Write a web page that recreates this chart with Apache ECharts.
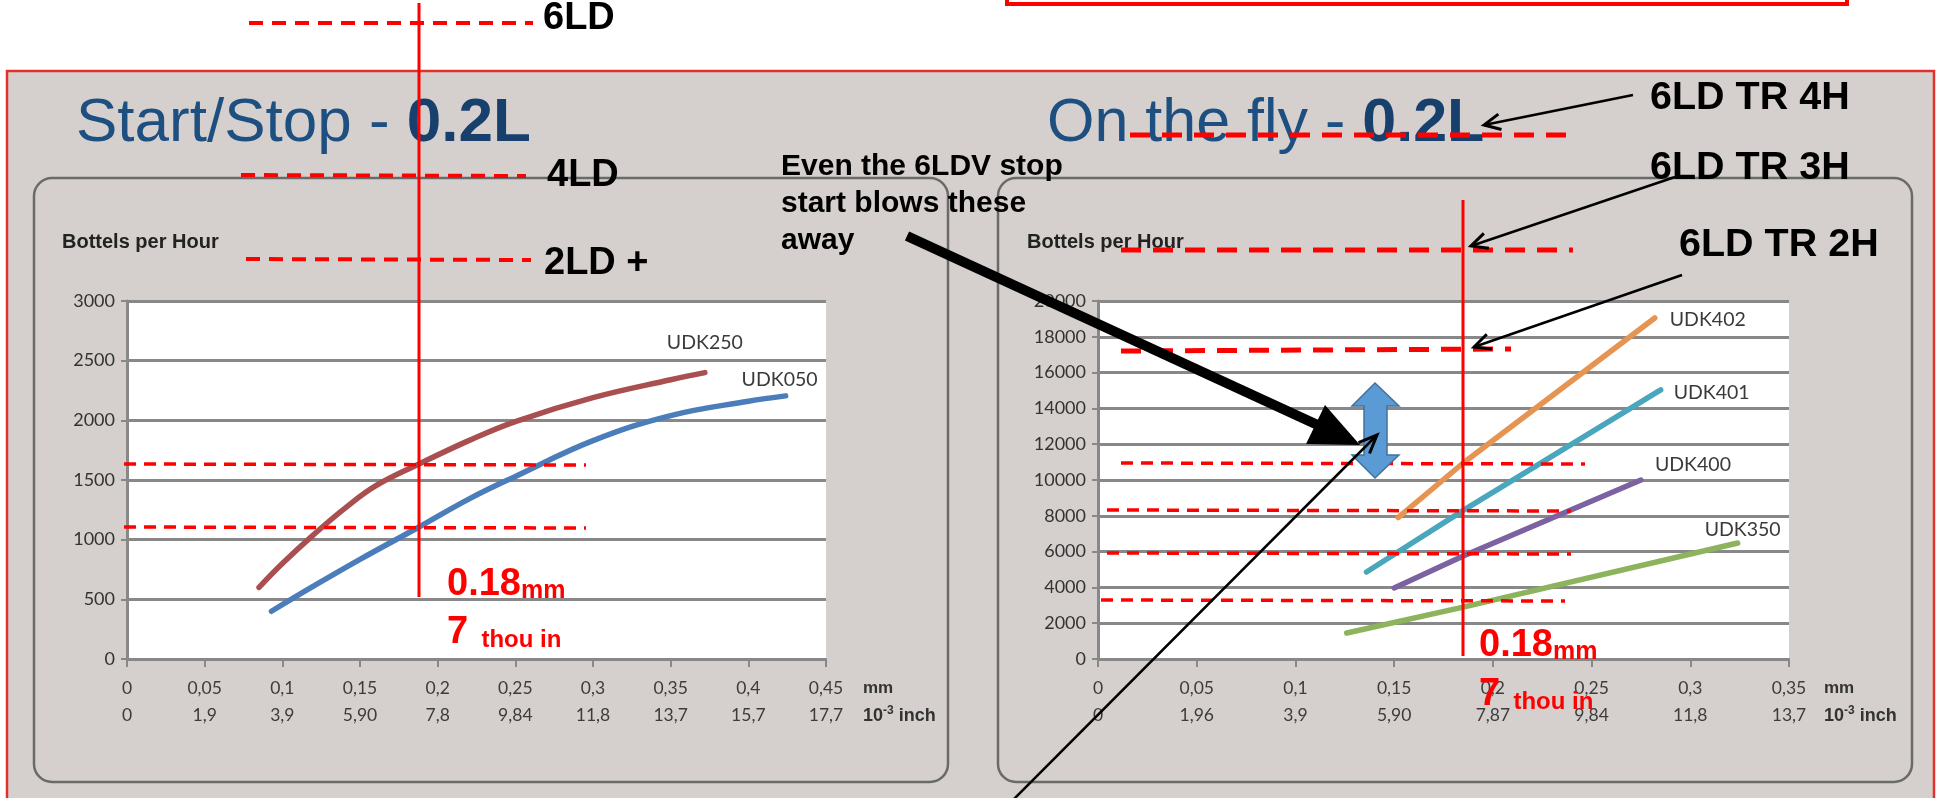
<!DOCTYPE html>
<html><head><meta charset="utf-8">
<script src="https://cdn.jsdelivr.net/npm/echarts/dist/echarts.min.js"></script>
<style>html,body{margin:0;padding:0;background:#fff;overflow:hidden}#c{width:1940px;height:798px}</style>
</head><body><div id="c"></div>
<script>
// ---- data ----
const mmTicksLeft = ['0','0,05','0,1','0,15','0,2','0,25','0,3','0,35','0,4','0,45'];
const inchTicksLeft = ['0','1,9','3,9','5,90','7,8','9,84','11,8','13,7','15,7','17,7'];
const mmTicksRight = ['0','0,05','0,1','0,15','0,2','0,25','0,3','0,35'];
const inchTicksRight = ['0','1,96','3,9','5,90','7,87','9,84','11,8','13,7'];

const udk250 = [[0.085,600],[0.1,800],[0.12,1040],[0.14,1260],[0.16,1450],[0.188,1634],[0.22,1830],[0.25,1990],[0.3,2190],[0.35,2340],[0.372,2400]];
const udk050 = [[0.093,400],[0.12,610],[0.15,835],[0.188,1106],[0.22,1340],[0.25,1530],[0.3,1830],[0.35,2040],[0.4,2160],[0.424,2205]];
const udk402 = [[0.152,7900],[0.185,10950],[0.282,19050]];
const udk401 = [[0.136,4860],[0.185,8300],[0.285,15030]];
const udk400 = [[0.150,3970],[0.185,5750],[0.275,10000]];
const udk350 = [[0.126,1450],[0.185,2900],[0.324,6480]];

// ---- styles ----
const SANS = 'Liberation Sans, Arial, sans-serif';
const TICKF = 'Lato, Liberation Sans, sans-serif';
const GRID_GRAY = '#888888';

function xLabelFmt(mm, inch) {
  return function (v) {
    const i = Math.round(v / 0.05);
    return '{a|' + (mm[i] || '') + '}\n{a|' + (inch[i] || '') + '}';
  };
}
function xAxisCfg(gi, max, mm, inch) {
  return {
    gridIndex: gi, type: 'value', min: 0, max: max, interval: 0.05,
    axisLine: { show: true, lineStyle: { color: GRID_GRAY, width: 2 } },
    axisTick: { show: true, length: 8, lineStyle: { color: GRID_GRAY, width: 2 } },
    splitLine: { show: false },
    axisLabel: { margin: 16, formatter: xLabelFmt(mm, inch),
      rich: { a: { fontSize: 17.5, lineHeight: 27, color: '#3c3c3c', fontFamily: TICKF } } }
  };
}
function yAxisCfg(gi, max, interval) {
  return {
    gridIndex: gi, type: 'value', min: 0, max: max, interval: interval,
    axisLine: { show: true, lineStyle: { color: GRID_GRAY, width: 3 } },
    axisTick: { show: true, length: 6, lineStyle: { color: GRID_GRAY, width: 2 } },
    splitLine: { show: true, lineStyle: { color: GRID_GRAY, width: 3 } },
    axisLabel: { margin: 12, fontSize: 18, color: '#333', fontFamily: TICKF,
      formatter: function (v) { return String(v); } }
  };
}
function lineSeries(name, data, color, gi, smooth, off) {
  return {
    name: name, type: 'line', xAxisIndex: gi, yAxisIndex: gi, data: data,
    smooth: smooth, showSymbol: false, symbol: 'none',
    lineStyle: { color: color, width: 5.5, cap: 'round' }, itemStyle: { color: color },
    endLabel: { show: true, formatter: name, color: '#3a3a3a', fontSize: 19.5, fontFamily: TICKF,
      align: 'center', verticalAlign: 'middle', distance: 0, offset: off },
    emphasis: { disabled: true }, z: 3
  };
}

// ---- graphic helpers ----
function dashed(x1, y1, x2, y2, lw, dash) {
  return { type: 'line', z: 100, shape: { x1, y1, x2, y2 },
    style: { stroke: '#ff0000', lineWidth: lw, lineDash: dash } };
}
function solidLine(x1, y1, x2, y2, lw, color) {
  return { type: 'line', z: 100, shape: { x1, y1, x2, y2 }, style: { stroke: color, lineWidth: lw } };
}
function text(x, y, t, size, opts) {
  return Object.assign({ type: 'text', z: 100, x: x, y: y,
    style: Object.assign({ text: t, font: 'bold ' + size + 'px ' + SANS, fill: '#000', verticalAlign: 'middle', align: 'left' }, (opts || {})) });
}
function arrow(fx, fy, tx, ty, lw, len, ang) {
  const a = Math.atan2(fy - ty, fx - tx);
  const p1 = [tx + len * Math.cos(a + ang), ty + len * Math.sin(a + ang)];
  const p2 = [tx + len * Math.cos(a - ang), ty + len * Math.sin(a - ang)];
  return [
    solidLine(fx, fy, tx, ty, lw, '#000'),
    { type: 'polyline', z: 100, shape: { points: [p1, [tx, ty], p2] },
      style: { stroke: '#000', lineWidth: lw + 0.5, fill: null, lineJoin: 'miter' } }
  ];
}
function redValue(x, y, big, small, bigSize, smallSize) {
  return { type: 'text', z: 100, x: x, y: y, style: {
    text: '{n|' + big + '}{u|' + small + '}', verticalAlign: 'middle', align: 'left',
    rich: {
      n: { font: 'bold ' + bigSize + 'px ' + SANS, fill: '#ff0000', lineHeight: bigSize, verticalAlign: 'bottom' },
      u: { font: 'bold ' + smallSize + 'px ' + SANS, fill: '#ff0000', lineHeight: smallSize, verticalAlign: 'bottom' }
    } } };
}
function unitLabels(x) {
  return [
    { type: 'text', z: 5, x: x, y: 688, style: { text: 'mm', font: 'bold 17px ' + SANS, fill: '#333', verticalAlign: 'middle' } },
    { type: 'text', z: 5, x: x, y: 716, style: { text: '{a|10}{s|-3}{a| inch}', verticalAlign: 'middle',
      rich: { a: { font: 'bold 18px ' + SANS, fill: '#333', lineHeight: 22, verticalAlign: 'middle' },
              s: { font: 'bold 12px ' + SANS, fill: '#333', lineHeight: 12, verticalAlign: 'top' } } } }
  ];
}
function title(x, a, b, size) {
  return { type: 'text', z: -5, x: x, y: 124, style: {
    text: '{a|' + a + '}{b|' + b + '}', verticalAlign: 'middle',
    rich: { a: { font: size + 'px ' + SANS, fill: '#1d4f80' }, b: { font: 'bold ' + size + 'px ' + SANS, fill: '#17406c' } } } };
}

const graphics = [
  { type: 'rect', z: -10, shape: { x: 7, y: 71, width: 1927, height: 740 },
    style: { fill: '#d5d0cd', stroke: '#e3302c', lineWidth: 2.5 } },
  { type: 'rect', z: -10, shape: { x: 1007, y: -20, width: 840, height: 24 },
    style: { fill: null, stroke: '#ff0000', lineWidth: 4 } },
  { type: 'rect', z: -9, shape: { x: 34, y: 178, width: 914, height: 604, r: 18 },
    style: { fill: null, stroke: '#6a6a6a', lineWidth: 2.5 } },
  { type: 'rect', z: -9, shape: { x: 998, y: 178, width: 914, height: 604, r: 18 },
    style: { fill: null, stroke: '#6a6a6a', lineWidth: 2.5 } },
  title(76, 'Start/Stop - ', '0.2L', 62),
  title(1047, 'On the fly - ', '0.2L', 61),
  { type: 'text', z: 5, x: 62, y: 242, style: { text: 'Bottels per Hour', font: 'bold 20px ' + SANS, fill: '#222', verticalAlign: 'middle' } },
  { type: 'text', z: 5, x: 1027, y: 242, style: { text: 'Bottels per Hour', font: 'bold 20px ' + SANS, fill: '#222', verticalAlign: 'middle' } },
  ...unitLabels(863),
  ...unitLabels(1824),

  // left annotations
  solidLine(419, 3, 419, 597, 3, '#ff0000'),
  dashed(249, 23, 533, 23, 4, [14, 9]),
  dashed(241, 175, 526, 176, 4, [14, 9]),
  dashed(246, 259, 531, 260, 4, [14, 9]),
  text(543, 19, '6LD', 38),
  text(547, 176, '4LD', 38),
  text(544, 264, '2LD +', 38),
  dashed(124, 464, 586, 465, 3.5, [12, 8]),
  dashed(124, 527, 586, 528, 3.5, [12, 8]),
  redValue(447, 585, '0.18', 'mm', 38, 25),
  redValue(447, 633, '7', '  thou in', 38, 24),

  // right annotations
  dashed(1130, 135, 1576, 135, 5, [20, 12]),
  dashed(1121, 250, 1573, 250, 5, [20, 12]),
  dashed(1121, 351, 1511, 349, 5, [20, 12]),
  solidLine(1463, 200, 1463, 656, 3, '#ff0000'),
  dashed(1121, 463, 1585, 464, 3.5, [12, 8]),
  dashed(1107, 510, 1571, 511, 3.5, [12, 8]),
  dashed(1107, 553, 1571, 554, 3.5, [12, 8]),
  dashed(1101, 600, 1565, 601, 3.5, [12, 8]),
  text(1650, 98, '6LD TR 4H', 39.5),
  text(1650, 168, '6LD TR 3H', 39.5),
  text(1679, 245, '6LD TR 2H', 39.5),
  ...arrow(1633, 95, 1484, 125, 2.5, 18, 0.45),
  ...arrow(1675, 177, 1471, 246, 2.5, 18, 0.45),
  ...arrow(1682, 275, 1474, 347, 2.5, 18, 0.45),
  redValue(1479, 646, '0.18', 'mm', 38, 25),
  redValue(1479, 695, '7', '  thou in', 38, 24),

  // comment text and arrows
  { type: 'text', z: 100, x: 781, y: 148, style: { text: 'Even the 6LDV stop\nstart blows these\naway',
    font: 'bold 30px ' + SANS, fill: '#000', lineHeight: 37, verticalAlign: 'top' } },
  { type: 'polygon', z: 100, shape: { points: [[1375,383],[1399,406],[1387,406],[1387,455],[1399,455],[1375,478],[1352,455],[1364,455],[1364,406],[1352,406]] },
    style: { fill: '#5b9bd5', stroke: '#41719c', lineWidth: 1.5 } },
  solidLine(907, 236, 1322, 427, 10, '#000'),
  { type: 'polygon', z: 100, shape: { points: [[1360, 445], [1306, 444], [1325, 405]] }, style: { fill: '#000' } },
  ...arrow(1013, 800, 1377, 435, 2.5, 20, 0.4)
];

const option = {
  animation: false,
  backgroundColor: '#ffffff',
  grid: [
    { left: 127, top: 301, width: 699, height: 358, show: true, backgroundColor: '#ffffff', borderWidth: 0 },
    { left: 1098, top: 301, width: 691, height: 358, show: true, backgroundColor: '#ffffff', borderWidth: 0 }
  ],
  xAxis: [ xAxisCfg(0, 0.45, mmTicksLeft, inchTicksLeft), xAxisCfg(1, 0.35, mmTicksRight, inchTicksRight) ],
  yAxis: [ yAxisCfg(0, 3000, 500), yAxisCfg(1, 20000, 2000) ],
  series: [
    lineSeries('UDK250', udk250, '#a94f50', 0, 0.4, [0, -30]),
    lineSeries('UDK050', udk050, '#4a7dba', 0, 0.4, [-6, -16]),
    lineSeries('UDK402', udk402, '#e59452', 1, false, [53, 2]),
    lineSeries('UDK401', udk401, '#49a6bd', 1, false, [51, 3]),
    lineSeries('UDK400', udk400, '#7c62a0', 1, false, [52, -15]),
    lineSeries('UDK350', udk350, '#8db45c', 1, false, [5, -13])
  ],
  graphic: graphics
};
const chart = echarts.init(document.getElementById('c'), null, { renderer: 'canvas' });
chart.setOption(option);
</script></body></html>
